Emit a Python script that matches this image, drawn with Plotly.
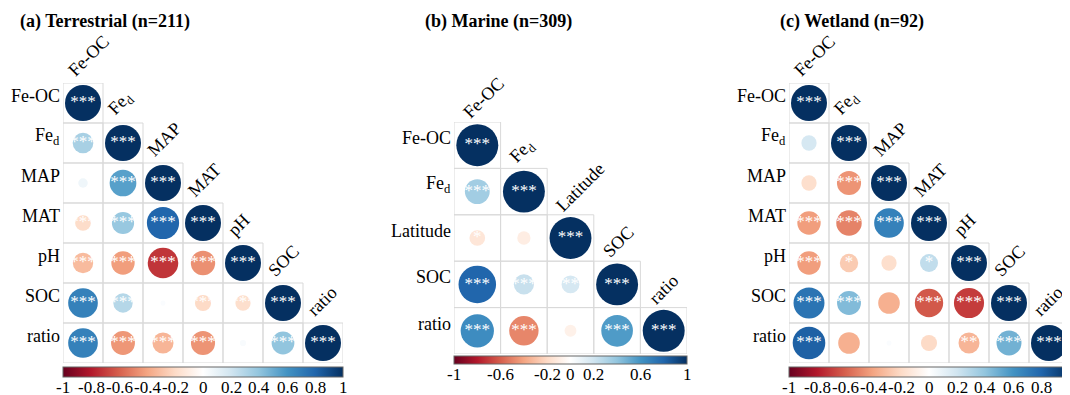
import numpy as np
import plotly.graph_objects as go

W, H = 1070, 395
OFF = 8  # default page margin of the html body

# ---------------- data ----------------
terr_vars = ["Fe-OC", "Fe<sub>d</sub>", "MAP", "MAT", "pH", "SOC", "ratio"]
terr_r = [
    [1],
    [0.33, 1],
    [0.07, 0.55, 1],
    [-0.19, 0.38, 0.80, 1],
    [-0.32, -0.42, -0.72, -0.46, 1],
    [0.68, 0.29, 0.02, -0.20, -0.18, 1],
    [0.68, -0.44, -0.34, -0.45, 0.03, 0.40, 1],
]
terr_stars = [
    ["***"],
    ["***", "***"],
    ["", "***", "***"],
    ["***", "***", "***", "***"],
    ["***", "***", "***", "***", "***"],
    ["***", "***", "", "***", "***", "***"],
    ["***", "***", "***", "***", "", "***", "***"],
]

mar_vars = ["Fe-OC", "Fe<sub>d</sub>", "Latitude", "SOC", "ratio"]
mar_r = [
    [1],
    [0.35, 1],
    [-0.14, -0.10, 1],
    [0.80, 0.23, 0.18, 1],
    [0.63, -0.49, -0.08, 0.57, 1],
]
mar_stars = [
    ["***"],
    ["***", "***"],
    ["*", "", "***"],
    ["***", "***", "**", "***"],
    ["***", "***", "", "***", "***"],
]

wet_vars = ["Fe-OC", "Fe<sub>d</sub>", "MAP", "MAT", "pH", "SOC", "ratio"]
wet_r = [
    [1],
    [0.18, 1],
    [-0.18, -0.45, 1],
    [-0.42, -0.50, 0.68, 1],
    [-0.42, -0.26, -0.18, 0.25, 1],
    [0.74, 0.44, -0.36, -0.62, -0.70, 1],
    [0.82, -0.36, 0.02, -0.20, -0.34, 0.48, 1],
]
wet_stars = [
    ["***"],
    ["", "***"],
    ["", "***", "***"],
    ["***", "***", "***", "***"],
    ["***", "*", "", "*", "***"],
    ["***", "***", "", "***", "***", "***"],
    ["***", "", "", "", "**", "***", "***"],
]

full_ticks = [-1, -0.8, -0.6, -0.4, -0.2, 0, 0.2, 0.4, 0.6, 0.8, 1]
mar_ticks = [-1, -0.6, -0.2, 0, 0.2, 0.6, 1]

titles = ["(a) Terrestrial (n=211)", "(b) Marine (n=309)", "(c) Wetland (n=92)"]

# ---------------- style ----------------
rdbu = ["#67001F", "#B2182B", "#D6604D", "#F4A582", "#FDDBC7", "#FFFFFF",
        "#D1E5F0", "#92C5DE", "#4393C3", "#2166AC", "#053061"]
cscale = [[i / 10, c] for i, c in enumerate(rdbu)]
FONT = "Liberation Serif"

panels = [
    dict(vars=terr_vars, r=terr_r, stars=terr_stars, ticks=full_ticks,
         box=(63, 343, 83, 363), cb=(367, 10), tx=18, lshift=-2, lyshift=0),
    dict(vars=mar_vars, r=mar_r, stars=mar_stars, ticks=mar_ticks,
         box=(454, 687, 122, 354), cb=(356, 8), tx=423, lshift=2, lyshift=-3),
    dict(vars=wet_vars, r=wet_r, stars=wet_stars, ticks=full_ticks,
         box=(789, 1069, 83, 363), cb=(367, 10), tx=778, lshift=-2, lyshift=0),
]


def px(v):
    return (v - OFF) / W


def py(v):
    return 1 - (v - OFF) / H


fig = go.Figure()
shapes = []
annotations = []
layout = {}

for k, p in enumerate(panels, start=1):
    sfx = "" if k == 1 else str(k)
    xa, ya = "x" + sfx, "y" + sfx
    n = len(p["vars"])
    x0, x1, y0, y1 = p["box"]
    cell = (x1 - x0) / n

    xs, ys, cs, ss, st = [], [], [], [], []
    for i, row in enumerate(p["r"]):
        for j, v in enumerate(row):
            xs.append(j)
            ys.append(i)
            cs.append(v)
            ss.append(0.9 * np.sqrt(abs(v)) * cell)
            st.append(p["stars"][i][j] or " ")
            shapes.append(dict(type="rect", xref=xa, yref=ya,
                               x0=j - 0.5, x1=j + 0.5, y0=i - 0.5, y1=i + 0.5,
                               line=dict(color="#D9D9D9", width=1), layer="below"))

    fig.add_trace(go.Scatter(
        x=xs, y=ys, mode="markers", xaxis=xa, yaxis=ya, hoverinfo="skip",
        marker=dict(size=ss, color=cs, coloraxis="coloraxis" + sfx,
                    line=dict(width=0), opacity=1),
        showlegend=False))
    fig.add_trace(go.Scatter(
        x=xs, y=ys, mode="text", text=st, xaxis=xa, yaxis=ya, hoverinfo="skip",
        textposition="middle center",
        textfont=dict(family=FONT, size=17, color="white"),
        showlegend=False))

    layout["xaxis" + sfx] = dict(domain=[px(x0), px(x1)], range=[-0.5, n - 0.5],
                                 visible=False, fixedrange=True)
    layout["yaxis" + sfx] = dict(domain=[py(y1), py(y0)], range=[n - 0.5, -0.5],
                                 visible=False, fixedrange=True)

    for i, name in enumerate(p["vars"]):
        # row labels
        annotations.append(dict(text=name, xref=xa + " domain", yref=ya, x=0, y=i,
                                xanchor="right", yanchor="middle", xshift=-1, yshift=7,
                                showarrow=False, font=dict(family=FONT, size=18, color="black")))
        # diagonal column labels
        annotations.append(dict(text=name, xref=xa, yref=ya, x=i - 0.5, y=i - 0.5,
                                xanchor="left", yanchor="bottom", xshift=p["lshift"],
                                yshift=p["lyshift"], textangle=-45, showarrow=False,
                                font=dict(family=FONT, size=18, color="black")))

    annotations.append(dict(text="<b>" + titles[k - 1] + "</b>", xref="paper", yref="paper",
                            x=px(p["tx"]), y=py(22), xanchor="left", yanchor="middle",
                            showarrow=False, font=dict(family=FONT, size=18, color="black")))

    cb_y, cb_th = p["cb"]
    layout["coloraxis" + sfx] = dict(
        colorscale=cscale, cmin=-1, cmax=1,
        colorbar=dict(orientation="h", x=px((x0 + x1) / 2), xanchor="center",
                      y=py(cb_y), yanchor="top", lenmode="pixels", len=x1 - x0,
                      thicknessmode="pixels", thickness=cb_th, xpad=0, ypad=0,
                      outlinewidth=1, outlinecolor="#666666", ticks="",
                      showticklabels=False))

    # colorbar tick labels: value -> position on the panel's x axis (same span as the bar)
    for t in p["ticks"]:
        annotations.append(dict(text=f"{t:g}", xref=xa, yref="paper",
                                x=-0.5 + (t + 1) / 2 * n, y=py(cb_y + cb_th - 1),
                                xanchor="center", yanchor="top", showarrow=False,
                                font=dict(family=FONT, size=17, color="black")))

fig.update_layout(width=W, height=H,
                  margin=dict(l=0, r=0, t=0, b=0, autoexpand=False),
                  paper_bgcolor="white", plot_bgcolor="white",
                  shapes=shapes, annotations=annotations, **layout)

fig.write_html("out.html")
